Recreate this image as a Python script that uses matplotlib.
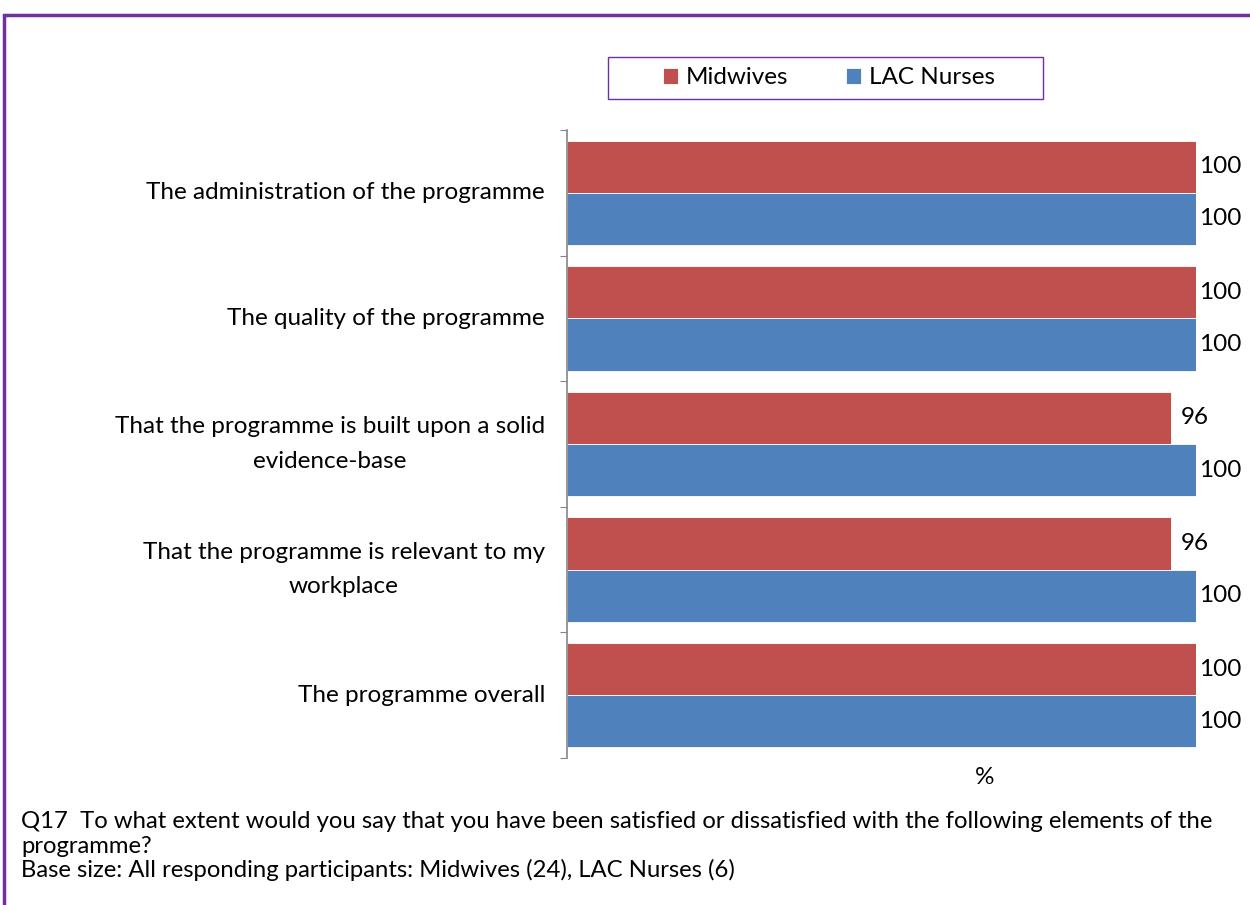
import numpy as np
import matplotlib.pyplot as plt
from matplotlib.patches import Rectangle

plt.rcParams['font.family'] = ['Lato', 'DejaVu Sans']

# datos
categorias = ["The administration of the programme",
              "The quality of the programme",
              "That the programme is built upon a solid\nevidence-base",
              "That the programme is relevant to my\nworkplace",
              "The programme overall"]
midwives = [100, 100, 96, 96, 100]
lac_nurses = [100, 100, 100, 100, 100]

rojo = "#C0504D"
azul = "#4F81BD"
morado = "#7030A0"
fs = 17.5

W, H = 1250, 905
fig = plt.figure(figsize=(W / 100, H / 100), dpi=100)

# marco morado alrededor del grafico
fig.patches.append(Rectangle((4 / W, -0.1), 1.2, 1 - 15 / H + 0.1, transform=fig.transFigure,
                             fill=False, edgecolor=morado, linewidth=2.5))

ax = fig.add_axes([567 / W, 1 - 758 / H, (1196 - 567) / W, (758 - 130) / H])

y = np.arange(len(categorias))
h = 0.415
b1 = ax.barh(y - h / 2, midwives, height=h, color=rojo, edgecolor="white", linewidth=0.6, label="Midwives")
b2 = ax.barh(y + h / 2, lac_nurses, height=h, color=azul, edgecolor="white", linewidth=0.6, label="LAC Nurses")

# etiquetas de valor
for barras, vals in ((b1, midwives), (b2, lac_nurses)):
    for barra, v in zip(barras, vals):
        ax.annotate(f"{v:g}", (v, barra.get_y() + barra.get_height() / 2),
                    xytext=(17.5, 0), textcoords="offset points",
                    va="center", ha="center", fontsize=fs)

ax.set_xlim(0, 100)
ax.set_ylim(len(categorias) - 0.5, -0.5)
ax.set_yticks(np.arange(len(categorias) + 1) - 0.5)
ax.set_yticklabels([])
ax.tick_params(axis="y", length=5, color="#868686", direction="out")
ax.set_xticks([])
for s in ("top", "right", "bottom"):
    ax.spines[s].set_visible(False)
ax.spines["left"].set_color("#868686")
ax.spines["left"].set_linewidth(1.2)

for i, c in enumerate(categorias):
    ax.text(-0.035, i, c, transform=ax.get_yaxis_transform(), ha="right", va="center",
            fontsize=fs, multialignment="center", linespacing=1.8)

fig.text(985 / W, 1 - 777 / H, "%", ha="center", va="center", fontsize=fs)

# leyenda con su recuadro aparte
fig.patches.append(Rectangle((608 / W, 1 - 99 / H), (1043 - 608) / W, 42 / H,
                             transform=fig.transFigure, fill=False,
                             edgecolor=morado, linewidth=1.0))
fig.legend(handles=[b1, b2], loc="center", bbox_to_anchor=(829 / W, 1 - 78 / H),
           ncol=2, frameon=False, fontsize=fs, handlelength=0.62,
           handleheight=0.62, handletextpad=0.3, columnspacing=2.4,
           borderpad=0, borderaxespad=0)

pie = ["Q17  To what extent would you say that you have been satisfied or dissatisfied with the following elements of the",
       "programme?",
       "Base size: All responding participants: Midwives (24), LAC Nurses (6)"]
for k, linea in enumerate(pie):
    fig.text(21 / W, 1 - (828 + 24.5 * k) / H, linea, ha="left", va="baseline", fontsize=17.2)

plt.savefig("out.png", dpi=100)
